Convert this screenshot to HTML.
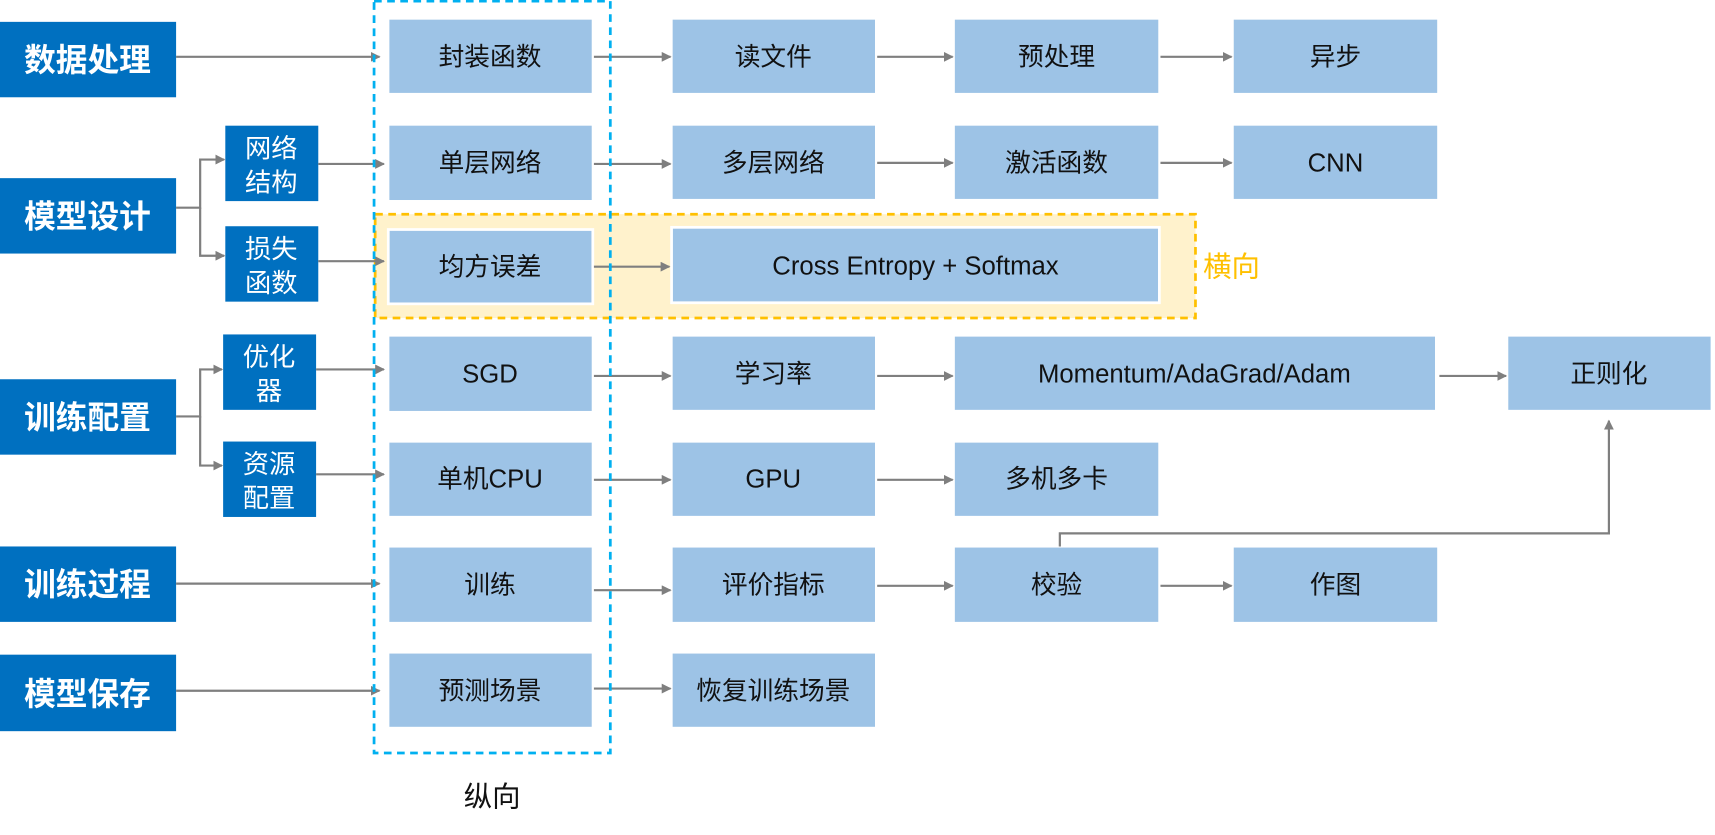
<!DOCTYPE html>
<html><head><meta charset="utf-8"><style>
html,body{margin:0;padding:0;background:#fff;width:1715px;height:835px;overflow:hidden}
svg text{font-family:"Liberation Sans","Noto Sans CJK SC",sans-serif}
</style></head><body>
<svg width="1715" height="835" viewBox="0 0 1568 764" preserveAspectRatio="none" xmlns="http://www.w3.org/2000/svg">
<defs><marker id="a" markerWidth="9" markerHeight="9" refX="8" refY="4.5" orient="auto" markerUnits="userSpaceOnUse"><path d="M0,0 L9,4.5 L0,9 z" fill="#7f7f7f"/></marker></defs>
<rect x="343" y="196" width="750" height="95" fill="#FFF2CC" stroke="#FFC000" stroke-width="2.5" stroke-dasharray="7,5"/>
<text x="1100" y="253" font-size="26" fill="#FFC000">横向</text>
<g fill="#0070C0">
<rect x="0" y="20" width="161" height="69"/><rect x="0" y="163" width="161" height="69"/><rect x="0" y="347" width="161" height="69"/><rect x="0" y="500" width="161" height="69"/><rect x="0" y="599" width="161" height="70"/>
<rect x="206" y="115" width="85" height="69"/><rect x="206" y="207" width="85" height="69"/><rect x="204" y="306" width="85" height="69"/><rect x="204" y="404" width="85" height="69"/>
</g>
<g fill="#fff" font-size="29" font-weight="bold" text-anchor="middle">
<text x="80" y="65">数据处理</text><text x="80" y="208">模型设计</text><text x="80" y="392">训练配置</text><text x="80" y="545">训练过程</text><text x="80" y="645">模型保存</text>
</g>
<g fill="#fff" font-size="24" text-anchor="middle">
<text x="248" y="144">网络</text><text x="248" y="175">结构</text>
<text x="248" y="236">损失</text><text x="248" y="267">函数</text>
<text x="246" y="335">优化</text><text x="246" y="366">器</text>
<text x="246" y="433">资源</text><text x="246" y="464">配置</text>
</g>
<g fill="#9DC3E6">
<rect x="356" y="18" width="185" height="67"/><rect x="356" y="115" width="185" height="68"/><rect x="355" y="210" width="187" height="68" stroke="#fff" stroke-width="2.5"/><rect x="356" y="308" width="185" height="68"/><rect x="356" y="405" width="185" height="67"/><rect x="356" y="501" width="185" height="68"/><rect x="356" y="598" width="185" height="67"/>
<rect x="615" y="18" width="185" height="67"/><rect x="615" y="115" width="185" height="67"/><rect x="614" y="208" width="446" height="69" stroke="#fff" stroke-width="2.5"/><rect x="615" y="308" width="185" height="67"/><rect x="615" y="405" width="185" height="67"/><rect x="615" y="501" width="185" height="68"/><rect x="615" y="598" width="185" height="67"/>
<rect x="873" y="18" width="186" height="67"/><rect x="873" y="115" width="186" height="67"/><rect x="873" y="308" width="439" height="67"/><rect x="873" y="405" width="186" height="67"/><rect x="873" y="501" width="186" height="68"/>
<rect x="1128" y="18" width="186" height="67"/><rect x="1128" y="115" width="186" height="67"/><rect x="1128" y="501" width="186" height="68"/>
<rect x="1379" y="308" width="185" height="67"/>
</g>
<g fill="#111" font-size="23.5" text-anchor="middle">
<text x="448" y="60">封装函数</text><text x="448" y="157">单层网络</text><text x="448" y="252">均方误差</text><text x="448" y="350">SGD</text><text x="448" y="446">单机CPU</text><text x="448" y="543">训练</text><text x="448" y="640">预测场景</text>
<text x="707" y="60">读文件</text><text x="707" y="157">多层网络</text><text x="837" y="251">Cross Entropy + Softmax</text><text x="707" y="350">学习率</text><text x="707" y="446">GPU</text><text x="707" y="543">评价指标</text><text x="707" y="640">恢复训练场景</text>
<text x="966" y="60">预处理</text><text x="966" y="157">激活函数</text><text x="1092" y="350">Momentum/AdaGrad/Adam</text><text x="966" y="446">多机多卡</text><text x="966" y="543">校验</text>
<text x="1221" y="60">异步</text><text x="1221" y="157">CNN</text><text x="1221" y="543">作图</text>
<text x="1471" y="350">正则化</text>
<text x="450" y="738" font-size="26">纵向</text>
</g>
<g stroke="#7f7f7f" stroke-width="2" fill="none" marker-end="url(#a)">
<path d="M161,52H347"/><path d="M161,190H183V146H205"/><path d="M183,190V234H205"/>
<path d="M161,381H183V338H203"/><path d="M183,381V426H203"/>
<path d="M161,534H347"/><path d="M161,632H347"/>
<path d="M291,150H351"/><path d="M291,239H351"/><path d="M289,338H351"/><path d="M289,434H351"/>
<path d="M543,52H613"/><path d="M543,150H613"/><path d="M543,244H612"/><path d="M543,344H613"/><path d="M543,439H613"/><path d="M543,540H613"/><path d="M543,630H613"/>
<path d="M802,52H871"/><path d="M802,149H871"/><path d="M802,344H871"/><path d="M802,439H871"/><path d="M802,536H871"/>
<path d="M1061,52H1126"/><path d="M1061,149H1126"/><path d="M1061,536H1126"/>
<path d="M1316,344H1377"/>
<path d="M969,500V488H1471V385"/>
</g>
<rect x="342" y="1" width="216" height="688" fill="none" stroke="#00B0F0" stroke-width="2.5" stroke-dasharray="7,5"/>
</svg>
</body></html>
